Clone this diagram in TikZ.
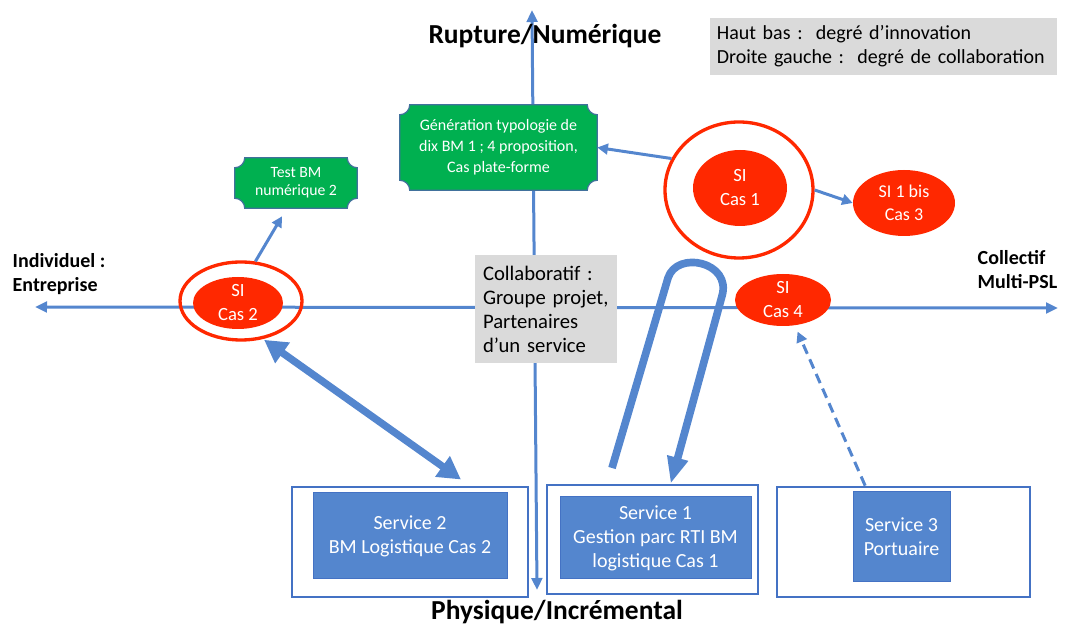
\documentclass[tikz,border=0pt]{standalone}
\usepackage{fontspec}
\setmainfont{Carlito}
\usetikzlibrary{arrows.meta,shapes.geometric,calc,backgrounds}

\definecolor{axisblue}{RGB}{84,134,206}
\definecolor{frameblue}{RGB}{68,114,196}
\definecolor{sired}{RGB}{255,40,0}
\definecolor{plaquegreen}{RGB}{0,176,80}
\definecolor{plaqueline}{RGB}{65,113,156}
\definecolor{notegray}{RGB}{218,218,218}

\newcommand*{\rc}{10}
\newcommand*{\plaque}[1]{%
	\begin{scope}[on background layer]
	\filldraw[fill=plaquegreen,draw=plaqueline,line width=0.9pt]
		($(#1.north west)+(\rc,0)$) -- ($(#1.north east)+(-\rc,0)$)
		arc[start angle=180,end angle=270,radius=\rc] -- ($(#1.south east)+(0,\rc)$)
		arc[start angle=90,end angle=180,radius=\rc] -- ($(#1.south west)+(\rc,0)$)
		arc[start angle=0,end angle=90,radius=\rc] -- ($(#1.north west)+(0,-\rc)$)
		arc[start angle=-90,end angle=0,radius=\rc] -- cycle;
	\end{scope}}

\begin{document}
\begin{tikzpicture}
[
	x=0.75pt,
	y=0.75pt,
	axis/.style={line width=2.25pt,axisblue,{Triangle[length=9pt,width=8pt]}-{Triangle[length=9pt,width=8pt]}},
	link/.style={line width=2.25pt,axisblue,-{Triangle[length=8pt,width=8pt]}},
	bilink/.style={line width=5.5pt,axisblue,{Triangle[length=17pt,width=18pt]}-{Triangle[length=17pt,width=18pt]}},
	uturn/.style={line width=5.75pt,axisblue,line join=round,-{Triangle[length=20pt,width=15pt]}},
	axistitle/.style={font=\bfseries\fontsize{20.6}{24}\selectfont},
	sidelabel/.style={font=\bfseries\fontsize{15}{18}\selectfont,align=left,anchor=west},
	si/.style={ellipse,fill=sired,text=white,inner sep=0pt,align=center,font=\fontsize{14}{18}\selectfont},
	ring/.style={ellipse,draw=sired,line width=2.5pt,inner sep=0pt},
	plaquetext/.style={text=white,inner sep=0pt,align=center},
	note/.style={fill=notegray,align=left},
	service/.style={fill=axisblue,draw=frameblue,line width=0.75pt,text=white,align=center,font=\fontsize{15}{18}\selectfont},
	servicebox/.style={draw=frameblue,line width=2pt}
]

	\useasboundingbox (0,0) rectangle (1065,-630);

	% axes
	\coordinate (left) at (35,-307);
	\coordinate (right) at (1058,-308);
	\coordinate (top) at (532,-10);
	\coordinate (bottom) at (537,-590);
	\begin{scope}[on background layer]
	\draw[axis] (left) -- (right);
	\draw[axis] (top) -- (bottom);
	\end{scope}

	\node[axistitle] (rupture) at (545,-36) {Rupture/Numérique};
	\node[axistitle] (physique) at (557,-612) {Physique/Incrémental};
	\node[sidelabel] (individuel) at (8,-274) {Individuel :\\Entreprise};
	\node[sidelabel] (collectif) at (973,-270) {Collectif\\Multi-PSL};

	\node[note,font=\fontsize{15}{18}\selectfont,minimum width=260pt,minimum height=42.75pt,text width=250pt,inner xsep=5pt] (legend) at (883.5,-46.5)
		{Haut bas :\ \ degré d’innovation\\Droite gauche :\ \ degré de collaboration};
	\node[note,font=\fontsize{15.5}{18}\selectfont,minimum height=81pt,text width=94.5pt,inner xsep=6pt] (collab) at (546,-309)
		{Collaboratif :\\Groupe projet,\\Partenaires\\d’un service};

	% green plaques
	\node[plaquetext,minimum width=147.75pt,minimum height=63.75pt,font=\fontsize{12}{15.75}\selectfont] (gentypo) at (498.5,-147.5)
		{Génération typologie de\\dix BM 1 ; 4 proposition,\\Cas plate-forme};
	\plaque{gentypo}
	\node[plaquetext,minimum width=91.5pt,minimum height=37.5pt,font=\fontsize{11.8}{13.5}\selectfont] (testbm) at (296,-183)
		{Test BM\\numérique 2};
	\plaque{testbm}

	% SI cases
	\node[ring,minimum width=111pt,minimum height=102pt] (cas1ring) at (739,-190) {};
	\node[si,minimum width=70.5pt,minimum height=57pt] (cas1) at (740,-188) {SI\\Cas 1};
	\node[si,minimum width=76.5pt,minimum height=49.5pt,font=\fontsize{13.5}{17.5}\selectfont] (cas3) at (904,-203) {SI 1 bis\\Cas 3};
	\node[ring,minimum width=91.5pt,minimum height=58.5pt] (cas2ring) at (241,-301) {};
	\node[si,minimum width=67.5pt,minimum height=39pt] (cas2) at (238,-303) {SI\\Cas 2};
	\node[si,minimum width=72pt,minimum height=39pt] (cas4) at (783,-300) {SI\\Cas 4};

	% services
	\node[servicebox,minimum width=177pt,minimum height=82.5pt] (srv2box) at (410,-542) {};
	\node[service,minimum width=145.5pt,minimum height=64.5pt] (srv2) at (410,-536) {Service 2\\BM Logistique Cas 2};
	\node[servicebox,minimum width=158.25pt,minimum height=81.75pt] (srv1box) at (652.5,-539.5) {};
	\node[service,minimum width=143.25pt,minimum height=61.5pt] (srv1) at (655.5,-538) {Service 1\\Gestion parc RTI BM\\logistique Cas 1};
	\node[servicebox,minimum width=189.75pt,minimum height=82.5pt] (srv3box) at (903.5,-542) {};
	\node[service,minimum width=72.75pt,minimum height=67.5pt] (srv3) at (901.5,-537) {Service 3\\Portuaire};

	% links
	\draw[link,shorten >=7pt] (cas2ring.70) -- (testbm.-110);
	\draw[link] (cas1ring.155) -- (gentypo.east);
	\draw[link] (cas1ring.east) -- (cas3.west);
	\draw[bilink,shorten <=1pt,shorten >=8pt] (cas2ring.-60) -- ($(srv2box.north west)!0.75!(srv2box.north east)$);
	\draw[link,dash pattern=on 7.5pt off 4.5pt,shorten >=5pt] ($(srv3box.north west)!0.35!(srv3box.north east)$) -- (cas4.-65);

	\coordinate (loopstart) at (612,-468);
	\draw[uturn] (loopstart) -- (668,-278) .. controls (677,-250) and (732,-262) .. (722,-296)
		-- ($(srv1box.north west)!0.585!(srv1box.north east)$);

\end{tikzpicture}
\end{document}
